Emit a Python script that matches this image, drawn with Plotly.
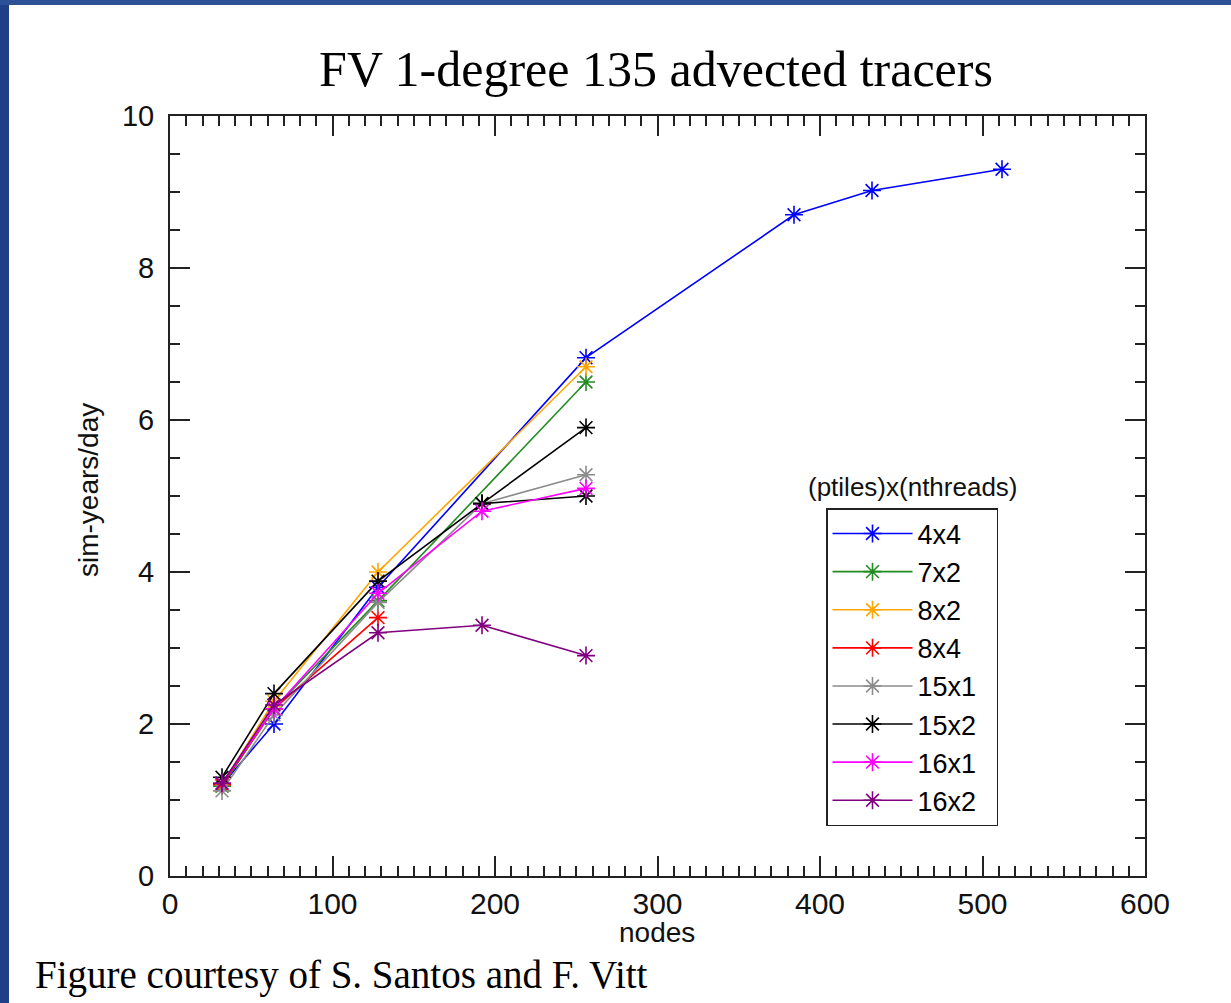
import plotly.graph_objects as go

# ---- data ----
nodes = [32, 64, 128, 192, 256, 384, 432, 512]
s_4x4 = [1.20, 2.00, 3.80, None, 6.82, 8.70, 9.02, 9.30]
s_7x2 = [1.18, 2.20, 3.62, None, 6.50]
s_8x2 = [1.20, 2.30, 4.00, None, 6.70]
s_8x4 = [1.20, 2.20, 3.40]
s_15x1 = [1.12, 2.12, 3.60, 4.90, 5.28]
s_15x2 = [1.30, 2.40, 3.88, 4.90, 5.00]
s_15x2b = [None, None, None, 4.90, 5.90]
s_16x1 = [1.22, 2.20, 3.72, 4.80, 5.10]
s_16x2 = [1.22, 2.25, 3.20, 3.30, 2.90]

series_names = ["4x4", "7x2", "8x2", "8x4", "15x1", "15x2", "16x1", "16x2"]
series_vals = [s_4x4, s_7x2, s_8x2, s_8x4, s_15x1, s_15x2, s_16x1, s_16x2]
series_colors = ["#0000ff", "#228b22", "#ffa500", "#ff0000", "#8c8c8c", "#000000", "#ff00ff", "#800080"]

x_ticks = [0, 100, 200, 300, 400, 500, 600]
y_ticks = [0, 2, 4, 6, 8, 10]

W, H = 1231, 1003
L, R, T, B = 170, 86, 116, 127
PW, PH = W - L - R, H - T - B

fig = go.Figure()


def add_series(name, vals, color, show=True):
    fig.add_trace(go.Scatter(
        x=nodes[:len(vals)], y=vals, name=name, mode="lines+markers",
        connectgaps=True, showlegend=show,
        line=dict(color=color, width=1.6),
        marker=dict(symbol="asterisk-open", size=15, line=dict(color=color, width=1.6), color=color),
    ))


for n, v, c in zip(series_names, series_vals, series_colors):
    add_series(n + "\u00a0\u00a0", v, c)
    if n == "15x2":
        add_series(n + " ", s_15x2b, c, show=False)

SANS = "Liberation Sans, Arial, sans-serif"
SERIF = "Liberation Serif, Times New Roman, serif"

axis_common = dict(
    showgrid=False, zeroline=False, showline=True, linecolor="#222", linewidth=2,
    mirror="ticks", ticks="inside", ticklen=20, tickwidth=2, tickcolor="#222",
)
fig.update_xaxes(range=[0, 600], tickvals=x_ticks, ticktext=[str(t) for t in x_ticks],
                 tickfont=dict(family=SANS, size=30, color="#111"), ticklabelstandoff=0,
                 minor=dict(ticks="inside", ticklen=10, tickwidth=1.5, tickcolor="#222", dtick=10),
                 **axis_common)
fig.update_yaxes(range=[0, 10], tickvals=y_ticks, ticktext=[str(t) for t in y_ticks],
                 tickfont=dict(family=SANS, size=29, color="#111"), ticklabelstandoff=8,
                 minor=dict(ticks="inside", ticklen=10, tickwidth=1.5, tickcolor="#222", dtick=0.5),
                 **axis_common)

fig.update_layout(
    width=W, height=H, margin=dict(l=L, r=R, t=T, b=B),
    paper_bgcolor="white", plot_bgcolor="white",
    title=dict(text="FV 1-degree 135 advected tracers", x=656 / W, xanchor="center",
               y=1 - 68 / H, yanchor="middle", yref="container",
               font=dict(family=SERIF, size=50, color="#000")),
    legend=dict(x=(826 - L) / PW, y=(H - B - 508) / PH, xanchor="left", yanchor="top",
                bordercolor="#222", borderwidth=1.5, bgcolor="white",
                font=dict(family=SANS, size=27, color="#000"),
                itemwidth=80, tracegroupgap=0),
)

# axis titles, legend title and footer
fig.add_annotation(text="sim-years/day", textangle=-90, xref="paper", yref="paper",
                   x=(88 - L) / PW, y=(H - B - 490) / PH, xanchor="center", yanchor="middle",
                   showarrow=False, font=dict(family=SANS, size=28, color="#111"))
fig.add_annotation(text="nodes", xref="paper", yref="paper",
                   x=(657 - L) / PW, y=(H - B - 932) / PH, xanchor="center", yanchor="middle",
                   showarrow=False, font=dict(family=SANS, size=28, color="#111"))
fig.add_annotation(text="(ptiles)x(nthreads)", xref="paper", yref="paper",
                   x=(913 - L) / PW, y=(H - B - 487) / PH, xanchor="center", yanchor="middle",
                   showarrow=False, font=dict(family=SANS, size=26, color="#111"))
fig.add_annotation(text="Figure courtesy of S. Santos and F. Vitt", xref="paper", yref="paper",
                   x=(33 - L) / PW, y=(H - B - 975) / PH, xanchor="left", yanchor="middle",
                   showarrow=False, font=dict(family=SERIF, size=39, color="#000"))

# blue frame of the slide (left and top bars)
fig.add_shape(type="rect", xref="paper", yref="paper", layer="above", line_width=0,
              x0=-L / PW, x1=(-L + 9) / PW, y0=-B / PH, y1=1 + T / PH, fillcolor="#1f3f86")
fig.add_shape(type="rect", xref="paper", yref="paper", layer="above", line_width=0,
              x0=-L / PW, x1=1 + R / PW, y0=1 + (T - 5) / PH, y1=1 + T / PH, fillcolor="#2c5197")

fig.write_html("out.html", config={"displayModeBar": False},
               post_script="document.body.style.margin='0';")
